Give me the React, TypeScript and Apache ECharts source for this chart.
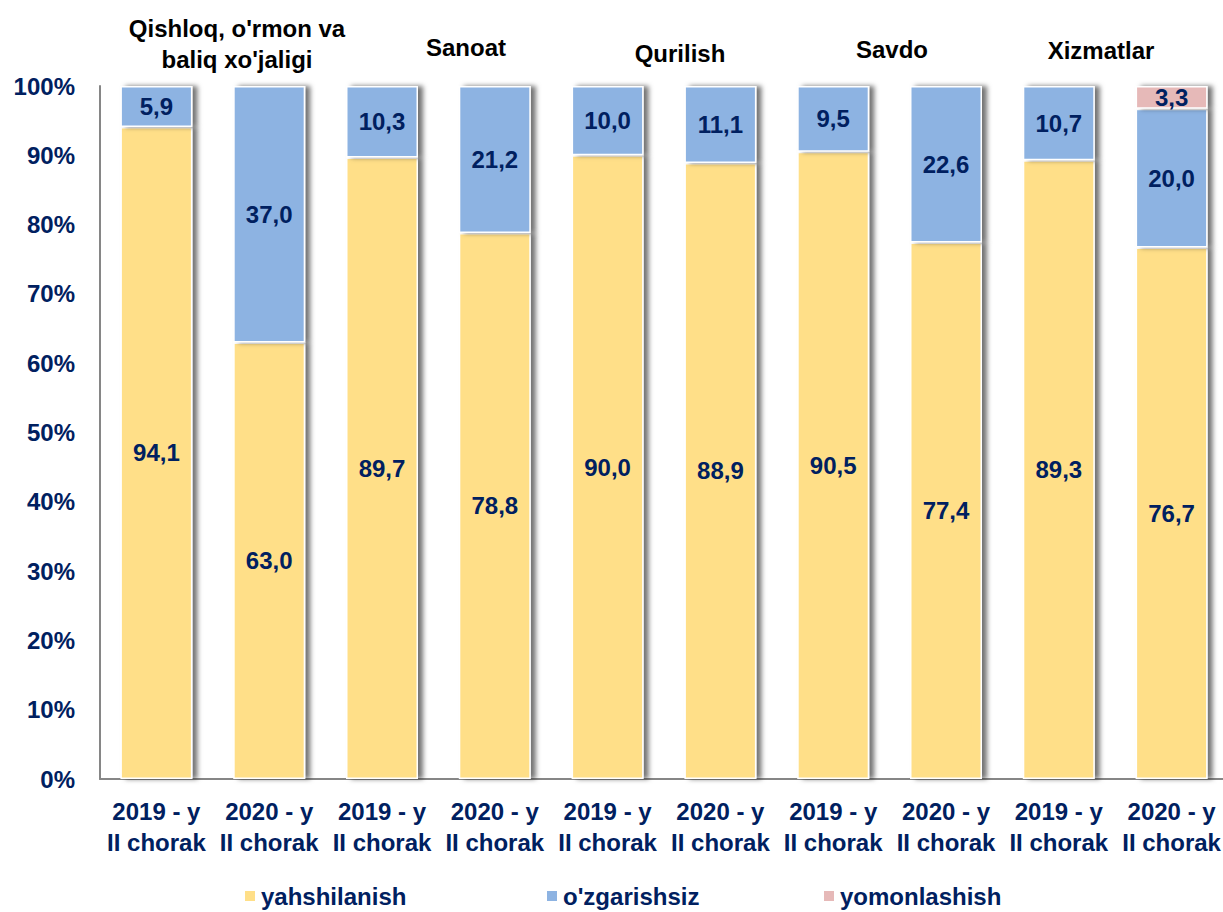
import React, { useEffect, useRef } from "react";
import * as echarts from "echarts";

const categories = [
  "2019 - y\nII chorak",
  "2020 - y\nII chorak",
  "2019 - y\nII chorak",
  "2020 - y\nII chorak",
  "2019 - y\nII chorak",
  "2020 - y\nII chorak",
  "2019 - y\nII chorak",
  "2020 - y\nII chorak",
  "2019 - y\nII chorak",
  "2020 - y\nII chorak",
];
const yahshilanish = [94.1, 63.0, 89.7, 78.8, 90.0, 88.9, 90.5, 77.4, 89.3, 76.7];
const ozgarishsiz = [5.9, 37.0, 10.3, 21.2, 10.0, 11.1, 9.5, 22.6, 10.7, 20.0];
const yomonlashish = [null, null, null, null, null, null, null, null, null, 3.3];
const seriesNames = ["yahshilanish", "o'zgarishsiz", "yomonlashish"];
const groupTitles = [
  "Qishloq, o'rmon va\nbaliq xo'jaligi",
  "Sanoat",
  "Qurilish",
  "Savdo",
  "Xizmatlar",
];

const FONT = "'Liberation Sans', Arial, sans-serif";
const NAVY = "#002060";
const COLORS = ["#FFDF88", "#8DB3E2", "#E6B9B8"];

export default function App() {
  const ref = useRef<HTMLDivElement>(null);
  useEffect(() => {
    if (!ref.current) return;
    const chart = echarts.init(ref.current, undefined, { renderer: "svg" });
    const fmt = (p: any) =>
      p.value == null || p.value === 0 ? "" : Number(p.value).toFixed(1).replace(".", ",");
    const mkSeries = (name: string, data: any[], color: string) => ({
      name,
      type: "bar",
      stack: "total",
      data,
      barWidth: 72,
      itemStyle: {
        color,
        borderColor: "#ffffff",
        borderWidth: 1.5,
        shadowColor: "rgba(0,0,0,0.55)",
        shadowBlur: 5,
        shadowOffsetX: 5,
        shadowOffsetY: 0,
      },
      label: {
        show: true,
        position: "inside",
        formatter: fmt,
        color: NAVY,
        fontFamily: FONT,
        fontWeight: "bold",
        fontSize: 24,
      },
    });
    const titlePos = [
      { x: 237, y: 44 },
      { x: 466, y: 47 },
      { x: 680, y: 53 },
      { x: 892, y: 49 },
      { x: 1101, y: 50 },
    ];
    const legendLeft = [243, 545, 822];
    chart.setOption({
      animation: false,
      grid: { left: 100, right: 12, top: 86, bottom: 133, containLabel: false },
      xAxis: {
        type: "category",
        data: categories,
        axisLine: { show: true, lineStyle: { color: "#868686", width: 2 } },
        axisTick: { show: false },
        axisLabel: {
          interval: 0,
          margin: 17,
          color: NAVY,
          fontFamily: FONT,
          fontWeight: "bold",
          fontSize: 24,
          lineHeight: 31,
        },
      },
      yAxis: {
        type: "value",
        min: 0,
        max: 100,
        interval: 10,
        axisLine: { show: true, lineStyle: { color: "#868686", width: 2 } },
        axisTick: { show: false },
        splitLine: { show: false },
        axisLabel: {
          formatter: "{value}%",
          margin: 25,
          color: NAVY,
          fontFamily: FONT,
          fontWeight: "bold",
          fontSize: 24,
        },
      },
      legend: seriesNames.map((n, i) => ({
        data: [n],
        left: legendLeft[i],
        top: 884,
        padding: 0,
        icon: "rect",
        itemWidth: 12,
        itemHeight: 12,
        itemGap: 0,
        textStyle: {
          color: NAVY,
          fontFamily: FONT,
          fontWeight: "bold",
          fontSize: 24,
        },
      })),
      graphic: groupTitles.map((t, i) => ({
        type: "text",
        x: titlePos[i].x,
        y: titlePos[i].y,
        style: {
          text: t,
          fill: "#000000",
          font: `bold 24px ${FONT}`,
          fontFamily: FONT,
          fontWeight: "bold",
          fontSize: 24,
          lineHeight: 31,
          align: "center",
          verticalAlign: "middle",
        },
      })),
      series: [
        mkSeries(seriesNames[0], yahshilanish, COLORS[0]),
        mkSeries(seriesNames[1], ozgarishsiz, COLORS[1]),
        mkSeries(seriesNames[2], yomonlashish, COLORS[2]),
      ],
    });
    return () => chart.dispose();
  }, []);
  return (
    <div
      style={{
        position: "fixed",
        left: 0,
        top: 0,
        width: 1223,
        height: 912,
        overflow: "hidden",
        background: "#fff",
      }}
    >
      <div ref={ref} style={{ width: 1240, height: 912 }} />
    </div>
  );
}
